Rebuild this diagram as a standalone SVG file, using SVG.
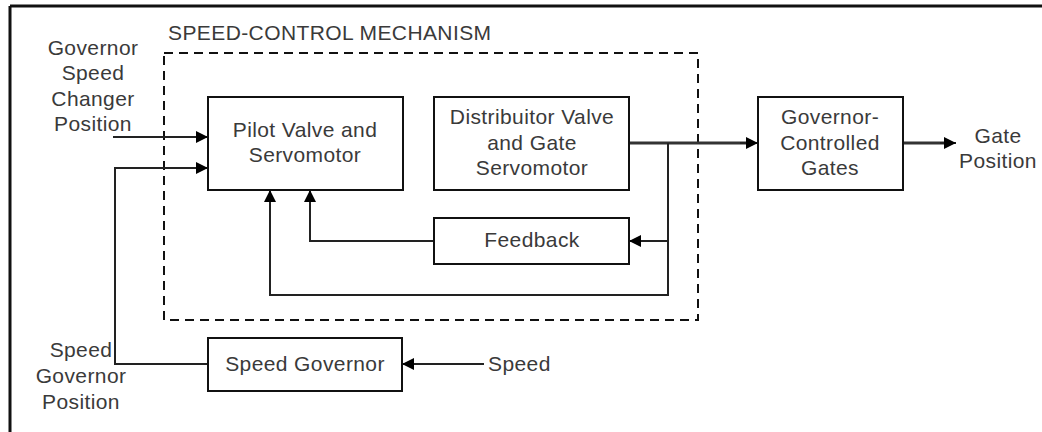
<svg xmlns="http://www.w3.org/2000/svg" width="1042" height="432" viewBox="0 0 1042 432">
  <style>
    .box { fill: #ffffff; stroke: #111111; stroke-width: 2; }
    .lbl { font-family: "Liberation Sans", Arial, sans-serif; font-size: 21px; letter-spacing: 0.4px; fill: #3a3a3a; text-anchor: middle; }
    .lbl-l { font-family: "Liberation Sans", Arial, sans-serif; font-size: 21px; letter-spacing: 0.4px; fill: #3a3a3a; text-anchor: start; }
    .wire { fill: none; stroke: #222222; stroke-width: 2; }
    .wire-thick { fill: none; stroke: #333333; stroke-width: 3; }
    .arrow { marker-end: url(#ah); }
  </style>
  <defs>
    <marker id="ah" markerUnits="userSpaceOnUse" markerWidth="12" markerHeight="12" viewBox="0 0 12 12" refX="12" refY="6" orient="auto">
      <path d="M0,0 L12,6 L0,12 z" fill="#000000"/>
    </marker>
  </defs>
  <rect width="1042" height="432" fill="#ffffff"/>

  <!-- outer frame (top and left visible) -->
  <g id="frame">
    <line x1="10" y1="6" x2="1042" y2="6" stroke="#111111" stroke-width="3"/>
    <line x1="10" y1="6" x2="10" y2="432" stroke="#111111" stroke-width="3"/>
  </g>

  <!-- speed-control mechanism group -->
  <g id="mechanism">
    <rect x="164" y="53" width="534" height="267" fill="none" stroke="#111111" stroke-width="2" stroke-dasharray="9,6"/>
    <text class="lbl-l" x="168" y="40">SPEED-CONTROL MECHANISM</text>
  </g>

  <g id="connectors">
    <!-- governor speed changer position input -->
    <path class="wire arrow" d="M113,137 H208"/>
    <!-- speed governor output to pilot valve -->
    <path class="wire arrow" d="M208,364 H115 V168 H208"/>
    <!-- speed input -->
    <path class="wire arrow" d="M484,364 H402"/>
    <!-- distributor to gates -->
    <path class="wire-thick" d="M629,143 H746"/>
    <path class="wire arrow" d="M740,143 H758"/>
    <!-- branch down -->
    <path class="wire" d="M668,143 V295 H270"/>
    <path class="wire arrow" d="M270,296 V190"/>
    <!-- to feedback -->
    <path class="wire arrow" d="M668,241 H629"/>
    <!-- feedback to pilot -->
    <path class="wire arrow" d="M434,241 H310 V190"/>
    <!-- gates output -->
    <path class="wire-thick" d="M903,143 H945"/>
    <path class="wire arrow" d="M940,143 H956"/>
  </g>

  <g id="pilot">
    <rect class="box" x="208" y="97" width="195" height="93"/>
    <text class="lbl" x="305" y="137">Pilot Valve and</text>
    <text class="lbl" x="305" y="162">Servomotor</text>
  </g>

  <g id="distributor">
    <rect class="box" x="434" y="97" width="195" height="93"/>
    <text class="lbl" x="532" y="124">Distribuitor Valve</text>
    <text class="lbl" x="532" y="150">and Gate</text>
    <text class="lbl" x="532" y="175">Servomotor</text>
  </g>

  <g id="gates">
    <rect class="box" x="758" y="97" width="145" height="93"/>
    <text class="lbl" x="830" y="124">Governor-</text>
    <text class="lbl" x="830" y="150">Controlled</text>
    <text class="lbl" x="830" y="175">Gates</text>
  </g>

  <g id="feedback">
    <rect class="box" x="434" y="218" width="195" height="46"/>
    <text class="lbl" x="532" y="247">Feedback</text>
  </g>

  <g id="speed-governor">
    <rect class="box" x="208" y="338" width="194" height="53"/>
    <text class="lbl" x="305" y="371">Speed Governor</text>
  </g>

  <g id="labels">
    <text class="lbl" x="93" y="55">Governor</text>
    <text class="lbl" x="93" y="80">Speed</text>
    <text class="lbl" x="93" y="106">Changer</text>
    <text class="lbl" x="93" y="131">Position</text>

    <text class="lbl" x="81" y="357">Speed</text>
    <text class="lbl" x="81" y="383">Governor</text>
    <text class="lbl" x="81" y="409">Position</text>

    <text class="lbl-l" x="488" y="371">Speed</text>

    <text class="lbl" x="998" y="143">Gate</text>
    <text class="lbl" x="998" y="168">Position</text>
  </g>
</svg>
